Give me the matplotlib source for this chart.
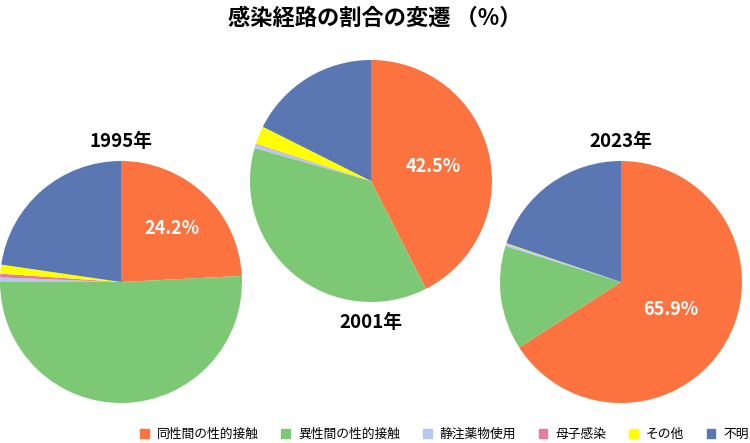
import matplotlib
matplotlib.use("Agg")
import matplotlib.pyplot as plt
from matplotlib.patches import Patch

plt.rcParams['font.family'] = ['Noto Sans CJK JP', 'DejaVu Sans']

categories = ['同性間の性的接触', '異性間の性的接触', '静注薬物使用', '母子感染', 'その他', '不明']
colors = ['#FC7340', '#7DC874', '#B5C8F4', '#E67BA3', '#FFFF00', '#5B77B3']

years = ['1995年', '2001年', '2023年']
vals_1995 = [24.2, 50.8, 0.6, 0.5, 1.2, 22.7]
vals_2001 = [42.5, 36.9, 0.5, 0.1, 2.4, 17.6]
vals_2023 = [65.9, 13.9, 0.3, 0.0, 0.1, 19.8]

# pixel layout (y measured from the bottom)
W, H = 750, 443
centers = [(121, H - 282), (371, H - 181), (621, H - 282)]
radius = 121
pct_dist = [0.61, 0.53, 0.47]
year_pos = [(121, H - 141), (371, H - 323), (621, H - 141)]

fig = plt.figure(figsize=(7.5, 4.43), dpi=100)
ax = fig.add_axes([0, 0, 1, 1])

for vals, c, pd in zip([vals_1995, vals_2001, vals_2023], centers, pct_dist):
    first = vals[0]
    wedges, texts, autotexts = ax.pie(
        vals, colors=colors, startangle=90, counterclock=False,
        center=c, radius=radius, frame=True,
        autopct=lambda p, f=first: f'{f:.1f}%' if abs(p - f) < 0.05 else '',
        pctdistance=pd, wedgeprops=dict(linewidth=0),
        textprops=dict(color='white', fontsize=13, fontweight='semibold'))

for label, (x, y) in zip(years, year_pos):
    ax.text(x, y, label, ha='center', va='center', fontsize=13.5, fontweight='semibold')

ax.text(375, H - 18, '感染経路の割合の変遷 （%）', ha='center', va='center',
        fontsize=16, fontweight='bold')

ax.set_xlim(0, W)
ax.set_ylim(0, H)
ax.set_aspect('equal')
ax.axis('off')

handles = [Patch(color=col, label=cat) for cat, col in zip(categories, colors)]
fig.legend(handles=handles, ncol=6, loc='center right', bbox_to_anchor=(749 / W, 8.5 / H),
           frameon=False, fontsize=9.2, handlelength=0.7, handleheight=0.7,
           handletextpad=0.63, columnspacing=1.75, borderpad=0, borderaxespad=0)

fig.savefig('out.png', dpi=100)
